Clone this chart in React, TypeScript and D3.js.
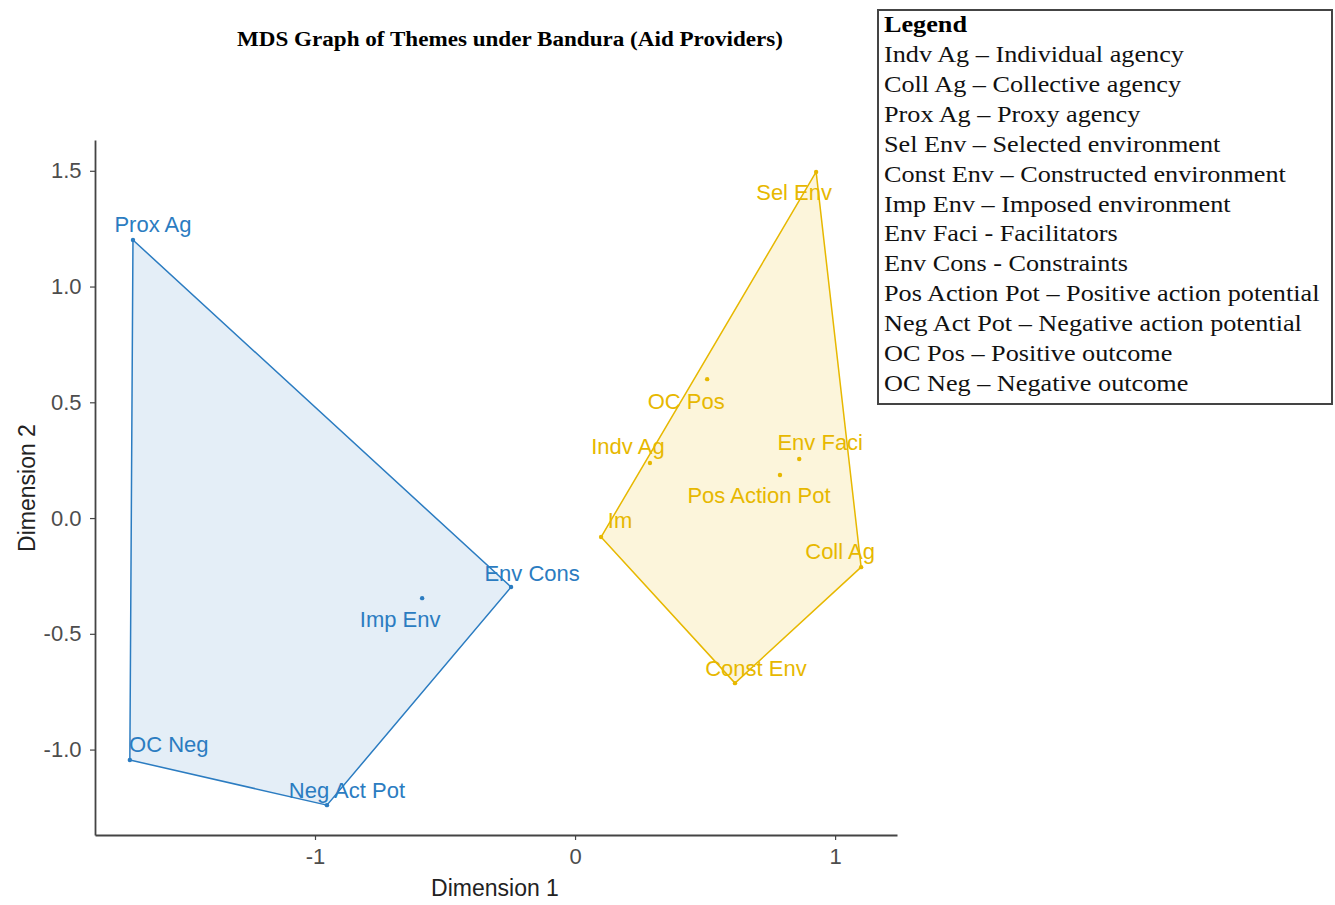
import React, { useRef, useEffect } from 'react';
import * as d3 from 'd3';

// MDS coordinates
const blueLabels = ['Prox Ag', 'OC Neg', 'Neg Act Pot', 'Env Cons', 'Imp Env'];
const blueX = [-1.700, -1.712, -0.954, -0.246, -0.588];
const blueY = [1.201, -1.045, -1.240, -0.298, -0.346];

const yellowLabels = ['Sel Env', 'OC Pos', 'Indv Ag', 'Env Faci', 'Pos Action Pot', 'Im', 'Coll Ag', 'Const Env'];
const yellowX = [0.927, 0.508, 0.288, 0.862, 0.788, 0.100, 1.100, 0.615];
const yellowY = [1.495, 0.600, 0.238, 0.255, 0.186, -0.082, -0.212, -0.713];

const xTicks = [-1, 0, 1];
const yTicks = [-1.0, -0.5, 0.0, 0.5, 1.0, 1.5];
const xDomain = [-1.846, 1.238];
const yDomain = [-1.369, 1.633];

const legendTitle = 'Legend';
const legendLines = [
  'Indv Ag \u2013 Individual agency',
  'Coll Ag \u2013 Collective agency',
  'Prox Ag \u2013 Proxy agency',
  'Sel Env \u2013 Selected environment',
  'Const Env \u2013 Constructed environment',
  'Imp Env \u2013 Imposed environment',
  'Env Faci - Facilitators',
  'Env Cons - Constraints',
  'Pos Action Pot \u2013 Positive action potential',
  'Neg Act Pot \u2013 Negative action potential',
  'OC Pos \u2013 Positive outcome',
  'OC Neg \u2013 Negative outcome',
];

// label offsets (px) like ggrepel put them
const nudges: Record<string, [number, number]> = {
  'Prox Ag': [20, -16], 'OC Neg': [39, -15], 'Neg Act Pot': [20, -15], 'Env Cons': [21, -14],
  'Imp Env': [-22, 21], 'Sel Env': [-22, 21], 'OC Pos': [-21, 22], 'Indv Ag': [-22, -16],
  'Env Faci': [21, -17], 'Pos Action Pot': [-21, 21], 'Im': [19, -17], 'Coll Ag': [-21, -16],
  'Const Env': [21, -15],
};

const W = 1335;
const H = 905;
const BLUE = '#2b7cc1';
const YELLOW = '#E7B800';
const sans = '"Liberation Sans", Arial, sans-serif';
const serif = '"Liberation Serif", "Times New Roman", serif';

const hyphen = (f: (n: number) => string) => (d: any) => f(+d).replace('\u2212', '-');

const App: React.FC = () => {
  const svgRef = useRef<SVGSVGElement>(null);

  useEffect(() => {
    if (!svgRef.current) return;
    const svg = d3.select(svgRef.current);
    svg.selectAll('*').remove();

    const x = d3.scaleLinear().domain(xDomain).range([95, 897]);
    const y = d3.scaleLinear().domain(yDomain).range([835, 140]);

    const groups = [
      { labels: blueLabels, xs: blueX, ys: blueY, color: BLUE, alpha: 0.13 },
      { labels: yellowLabels, xs: yellowX, ys: yellowY, color: YELLOW, alpha: 0.14 },
    ];

    groups.forEach(g => {
      const pts: [number, number][] = g.xs.map((v, i) => [x(v), y(g.ys[i])]);
      const hull = d3.polygonHull(pts);
      if (hull) {
        svg.append('path')
          .attr('d', 'M' + hull.map(p => p.join(',')).join('L') + 'Z')
          .attr('fill', g.color)
          .attr('fill-opacity', g.alpha)
          .attr('stroke', g.color)
          .attr('stroke-width', 1.5)
          .attr('stroke-linejoin', 'round');
      }
      svg.append('g').selectAll('circle')
        .data(pts)
        .join('circle')
        .attr('cx', d => d[0])
        .attr('cy', d => d[1])
        .attr('r', 2.2)
        .attr('fill', g.color);
      svg.append('g').selectAll('text')
        .data(g.labels)
        .join('text')
        .attr('x', (d, i) => pts[i][0] + (nudges[d] ? nudges[d][0] : 0))
        .attr('y', (d, i) => pts[i][1] + (nudges[d] ? nudges[d][1] : 0))
        .attr('text-anchor', 'middle')
        .attr('dominant-baseline', 'central')
        .attr('font-family', sans)
        .attr('font-size', 22)
        .attr('fill', g.color)
        .text(d => d);
    });

    // axes
    const xAxis = svg.append('g')
      .attr('transform', 'translate(0,835)')
      .call(d3.axisBottom(x).tickValues(xTicks).tickFormat(hyphen(d3.format('d'))).tickSize(5).tickSizeOuter(0));
    const yAxis = svg.append('g')
      .attr('transform', 'translate(95,0)')
      .call(d3.axisLeft(y).tickValues(yTicks).tickFormat(hyphen(d3.format('.1f'))).tickSize(5).tickSizeOuter(0));
    [xAxis, yAxis].forEach(a => {
      a.select('.domain').attr('stroke', '#444').attr('stroke-width', 1.8);
      a.selectAll('.tick line').attr('stroke', '#444').attr('stroke-width', 1.2);
      a.selectAll('.tick text')
        .attr('font-family', sans)
        .attr('font-size', 22)
        .attr('fill', '#4d4d4d');
    });
    xAxis.selectAll('.tick text').attr('dy', '0.95em');
    yAxis.selectAll('.tick text').attr('dx', '-0.25em');

    svg.append('text')
      .attr('x', 495).attr('y', 896)
      .attr('text-anchor', 'middle')
      .attr('font-family', sans).attr('font-size', 23)
      .attr('fill', '#222')
      .text('Dimension 1');
    svg.append('text')
      .attr('transform', 'translate(35,488) rotate(-90)')
      .attr('text-anchor', 'middle')
      .attr('font-family', sans).attr('font-size', 23)
      .attr('fill', '#222')
      .text('Dimension 2');

    // title
    svg.append('text')
      .attr('x', 510).attr('y', 46)
      .attr('text-anchor', 'middle')
      .attr('font-family', serif).attr('font-weight', 'bold').attr('font-size', 20)
      .attr('textLength', 546).attr('lengthAdjust', 'spacingAndGlyphs')
      .text('MDS Graph of Themes under Bandura (Aid Providers)');

    // legend box
    const lg = svg.append('g');
    lg.append('rect')
      .attr('x', 878).attr('y', 10).attr('width', 454).attr('height', 394)
      .attr('fill', 'white').attr('stroke', '#444').attr('stroke-width', 2);
    lg.append('text')
      .attr('transform', 'translate(884,32) scale(1.14,1)')
      .attr('font-family', serif).attr('font-weight', 'bold').attr('font-size', 23)
      .text(legendTitle);
    lg.selectAll('text.item')
      .data(legendLines)
      .join('text')
      .attr('class', 'item')
      .attr('transform', (d, i) => `translate(884,${62 + i * 29.9}) scale(1.14,1)`)
      .attr('font-family', serif).attr('font-size', 23)
      .attr('fill', '#111')
      .text(d => d);
  }, []);

  return (
    <div style={{ position: 'absolute', left: 0, top: 0 }}>
      <svg ref={svgRef} width={W} height={H} style={{ display: 'block', background: 'white' }} />
    </div>
  );
};

export default App;
